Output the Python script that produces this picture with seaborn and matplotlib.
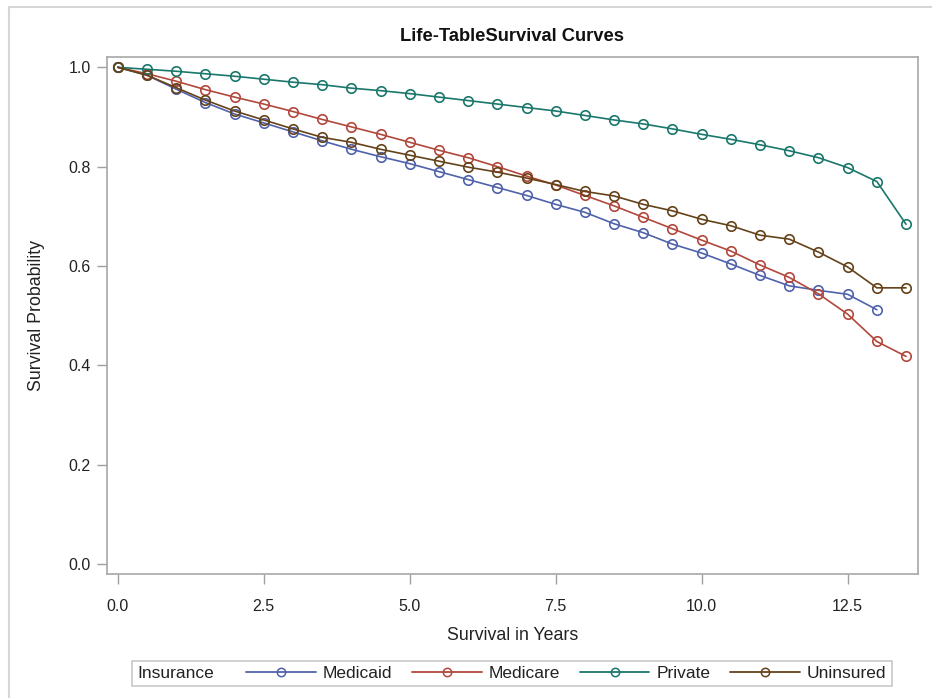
import numpy as np
import pandas as pd
import matplotlib
matplotlib.use("Agg")
import matplotlib.pyplot as plt
from matplotlib.lines import Line2D
from matplotlib.patches import Rectangle
import seaborn as sns

years = [0.0, 0.5, 1.0, 1.5, 2.0, 2.5, 3.0, 3.5, 4.0, 4.5, 5.0, 5.5, 6.0, 6.5,
         7.0, 7.5, 8.0, 8.5, 9.0, 9.5, 10.0, 10.5, 11.0, 11.5, 12.0, 12.5, 13.0, 13.5]

medicaid = [1.0, 0.984, 0.956, 0.929, 0.906, 0.888, 0.870, 0.852, 0.835, 0.820,
            0.806, 0.790, 0.774, 0.758, 0.742, 0.724, 0.708, 0.685, 0.667, 0.644,
            0.626, 0.604, 0.581, 0.560, 0.551, 0.543, 0.512]
medicare = [1.0, 0.987, 0.972, 0.955, 0.940, 0.926, 0.911, 0.895, 0.880, 0.865,
            0.849, 0.833, 0.818, 0.800, 0.781, 0.763, 0.742, 0.721, 0.698, 0.675,
            0.652, 0.630, 0.602, 0.577, 0.544, 0.503, 0.448, 0.418]
private = [1.0, 0.996, 0.992, 0.987, 0.982, 0.976, 0.970, 0.965, 0.958, 0.953,
           0.947, 0.940, 0.933, 0.926, 0.919, 0.912, 0.903, 0.894, 0.886, 0.876,
           0.865, 0.855, 0.844, 0.832, 0.818, 0.798, 0.770, 0.684]
uninsured = [1.0, 0.984, 0.959, 0.934, 0.912, 0.894, 0.876, 0.859, 0.849, 0.835,
             0.823, 0.811, 0.799, 0.789, 0.777, 0.764, 0.750, 0.741, 0.724, 0.711,
             0.694, 0.681, 0.662, 0.654, 0.628, 0.598, 0.556, 0.556]

groups = ["Medicaid", "Medicare", "Private", "Uninsured"]
series = [medicaid, medicare, private, uninsured]
colors = ["#5062AA", "#B2483C", "#1A776C", "#65431A"]

rows = []
for g, vals in zip(groups, series):
    for x, y in zip(years, vals):
        rows.append({"Years": x, "Survival": y, "Insurance": g})
df = pd.DataFrame(rows)

sns.set_style("white")
plt.rcParams["font.family"] = ["Liberation Sans", "DejaVu Sans"]

fig = plt.figure(figsize=(9.32, 6.98), dpi=100)
ax = fig.add_axes([0.1151, 0.1772, 0.8702, 0.7407])

palette = dict(zip(groups, colors))
sns.lineplot(data=df, x="Years", y="Survival", hue="Insurance", palette=palette,
             hue_order=groups, marker="o", markersize=6.8, linewidth=1.2,
             markerfacecolor="none", markeredgewidth=1.2, legend=False,
             ax=ax, sort=False)
for line in ax.lines:
    line.set_markeredgecolor(line.get_color())
    line.set_markerfacecolor("none")

ax.set_xlim(-0.18, 13.71)
ax.set_ylim(-0.0207, 1.0201)
ax.set_xticks([0.0, 2.5, 5.0, 7.5, 10.0, 12.5])
ax.set_xticklabels(["0.0", "2.5", "5.0", "7.5", "10.0", "12.5"])
ax.set_yticks([0.0, 0.2, 0.4, 0.6, 0.8, 1.0])
ax.set_yticklabels(["0.0", "0.2", "0.4", "0.6", "0.8", "1.0"])
ax.tick_params(axis="both", which="both", direction="out", length=7, width=1,
               color="#A0A0A0", labelsize=11.5, labelcolor="#222222", pad=5,
               bottom=True, left=True)
ax.tick_params(axis="x", pad=11)
for side in ["left", "right", "top", "bottom"]:
    ax.spines[side].set_color("#A8A8A8")
    ax.spines[side].set_linewidth(1.2)
ax.grid(False)
ax.set_xlabel("Survival in Years", fontsize=12.8, color="#222222", labelpad=9)
ax.set_ylabel("Survival Probability", fontsize=12.8, color="#222222", labelpad=17)
fig.text(0.549, 0.947, "Life-TableSurvival Curves", ha="center", va="center",
         fontsize=13.2, fontweight="bold", color="#111111")

# outer border
fig.add_artist(Line2D([0.0097, 1.0], [0.990, 0.990], transform=fig.transFigure,
                      color="#D6D6D6", linewidth=1.5))
fig.add_artist(Line2D([0.0097, 0.0097], [0.0, 0.990], transform=fig.transFigure,
                      color="#D6D6D6", linewidth=1.5))

# legend box
fig.add_artist(Rectangle((0.1413, 0.0176), 0.8155, 0.0358, transform=fig.transFigure,
                         facecolor="white", edgecolor="#C8C8C8", linewidth=1.2))
fig.text(0.147, 0.0358, "Insurance", ha="left", va="center", fontsize=12.5,
         color="#222222")
handles = [Line2D([], [], color=c, marker="o", markersize=6, markerfacecolor="none",
                  markeredgecolor=c, markeredgewidth=1.1, linewidth=1.3) for c in colors]
fig.legend(handles, groups, loc="center", bbox_to_anchor=(0.6075, 0.0358), ncol=4,
           frameon=False, handlelength=4.0, handletextpad=0.4, columnspacing=1.15,
           borderpad=0, fontsize=12.5, labelcolor="#222222")

fig.savefig("out.png", dpi=100)
